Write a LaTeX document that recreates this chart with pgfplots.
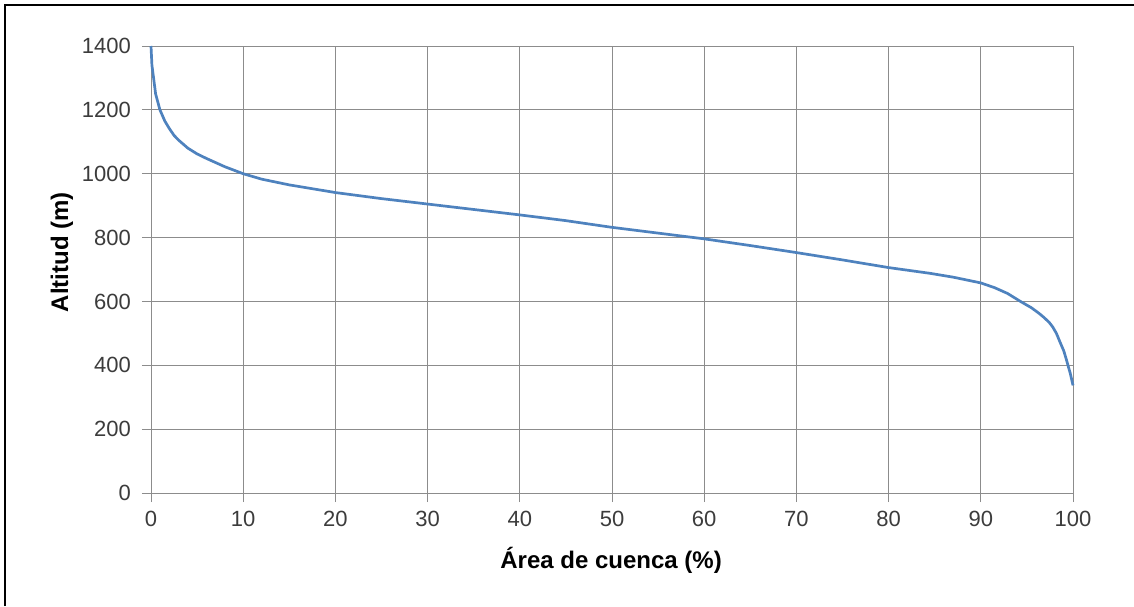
\documentclass[border=0pt]{standalone}
\usepackage{pgfplots}
\pgfplotsset{compat=1.18}
\usepackage{fontspec}
\setmainfont{Liberation Sans}
\definecolor{curve}{RGB}{78,130,190}
\definecolor{gridc}{RGB}{140,140,140}
\definecolor{tickc}{RGB}{60,60,60}
\begin{document}
\begin{tikzpicture}[x=0.5pt,y=0.5pt]
\useasboundingbox (0,0) rectangle (1134,606);
\fill[white] (0,0) rectangle (1134,606);
\draw[black,line width=1.1pt] (5,0) -- (5,601) -- (1134,601);
\begin{axis}[
  at={(75.5pt,56.5pt)}, anchor=south west,
  scale only axis, width=461pt, height=223.5pt,
  xmin=0, xmax=100, ymin=0, ymax=1400,
  xtick={0,10,...,100}, ytick={0,200,...,1400},
  grid=major,
  major grid style={gridc, line width=0.5pt},
  axis line style={gridc, line width=0.5pt},
  tick style={gridc, line width=0.5pt},
  tick align=outside, major tick length=4.5pt,
  xtick pos=bottom, ytick pos=left,
  /pgf/number format/assume math mode=true,
  /pgf/number format/1000 sep={},
  ticklabel style={font=\fontsize{11}{13}\selectfont, text=tickc},
  xticklabel style={yshift=-1pt},
  yticklabel style={xshift=-2pt},
  xlabel={\textbf{Área de cuenca (\%)}},
  ylabel={\textbf{Altitud (m)}},
  label style={font=\fontsize{12}{14}\selectfont},
  xlabel style={at={(axis description cs:0.499,-0.150)}, anchor=center},
  ylabel style={at={(axis description cs:-0.0965,0.539)}, anchor=center},
  clip=false,
]
\addplot[curve, line width=1.35pt, line join=round] coordinates {
(0,1400) (0.1,1340) (0.28,1300) (0.5,1250) (0.97,1200) (1.5,1165) (2.0,1141)
(2.5,1120) (3.0,1105) (4,1080) (5,1062) (6,1048) (8,1022) (10,1000) (12,983) (15,965)
(20,941) (25,922) (30,905) (35,888) (40,871) (45,853) (50,832) (55,814)
(60,796) (65,775) (70,753) (75,730) (80,706) (84.5,688) (87,676) (90,658)
(91.5,643) (92.9,625) (94.3,600) (95.5,580) (96.3,563) (96.8,551) (97.4,535)
(97.8,520) (98.2,500) (98.6,472) (99,445) (99.3,416) (99.5,395) (99.7,375) (100,337)
};
\end{axis}
\end{tikzpicture}
\end{document}
